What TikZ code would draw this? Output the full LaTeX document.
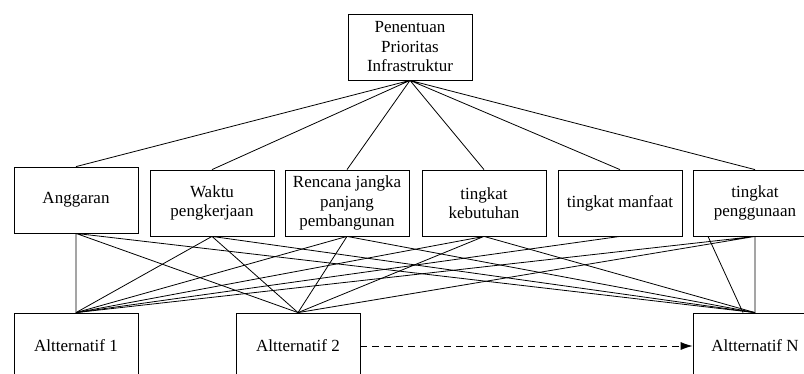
\documentclass[tikz,border=0pt]{standalone}
\usepackage{fontspec}
\setmainfont{Liberation Serif}
\usepackage{tikz}
\usetikzlibrary{arrows.meta, positioning}

\begin{document}
\begin{tikzpicture}[x=1pt, y=-1pt, line width=0.8pt,
    kotak/.style={draw, rectangle, minimum width=124pt, minimum height=66pt, inner sep=0pt, align=center, font=\fontsize{17}{19.5}\selectfont}]
  \useasboundingbox (0,0) rectangle (804,373);
  % tujuan
  \node[kotak] (tujuan) at (410, 47) {Penentuan\\Prioritas\\Infrastruktur};
  % kriteria
  \node[kotak] (anggaran)   at (76, 200)  {Anggaran};
  \node[kotak] (waktu)      at (212, 203) {Waktu\\pengkerjaan};
  \node[kotak] (rencana)    at (347, 203) {Rencana jangka\\panjang\\pembangunan};
  \node[kotak] (kebutuhan)  at (484, 203) {tingkat\\kebutuhan};
  \node[kotak] (manfaat)    at (620, 203) {tingkat manfaat};
  \node[kotak] (penggunaan) at (755, 203) {tingkat\\penggunaan};
  % alternatif
  \node[kotak] (alt1) at (76, 346)  {Altternatif 1};
  \node[kotak] (alt2) at (298, 346) {Altternatif 2};
  \node[kotak] (altN) at (755, 346) {Altternatif N};

  \draw (tujuan.south) -- (anggaran.north)
        (tujuan.south) -- (waktu.north)
        (tujuan.south) -- (rencana.north)
        (tujuan.south) -- (kebutuhan.north)
        (tujuan.south) -- (manfaat.north)
        (tujuan.south) -- (penggunaan.north);

  \draw (anggaran.south) -- (alt1.north) (anggaran.south) -- (alt2.north) (anggaran.south) -- (altN.north);
  \draw (waktu.south) -- (alt1.north) (waktu.south) -- (alt2.north) (waktu.south) -- (altN.north);
  \draw (rencana.south) -- (alt1.north) (rencana.south) -- (alt2.north) (rencana.south) -- (altN.north);
  \draw (kebutuhan.south) -- (alt1.north) (kebutuhan.south) -- (alt2.north) (kebutuhan.south) -- (altN.north);
  \draw (manfaat.south) -- (alt1.north);
  \draw (penggunaan.south) -- (alt1.north) (penggunaan.south) -- (alt2.north) (penggunaan.south) -- (altN.north);
  \draw ([xshift=-47pt]penggunaan.south) -- ([xshift=-12pt]altN.north);

  \draw[dash pattern=on 7pt off 5pt, -{Latex[length=12pt, width=8pt]}] (alt2.east) -- (altN.west);
\end{tikzpicture}
\end{document}
